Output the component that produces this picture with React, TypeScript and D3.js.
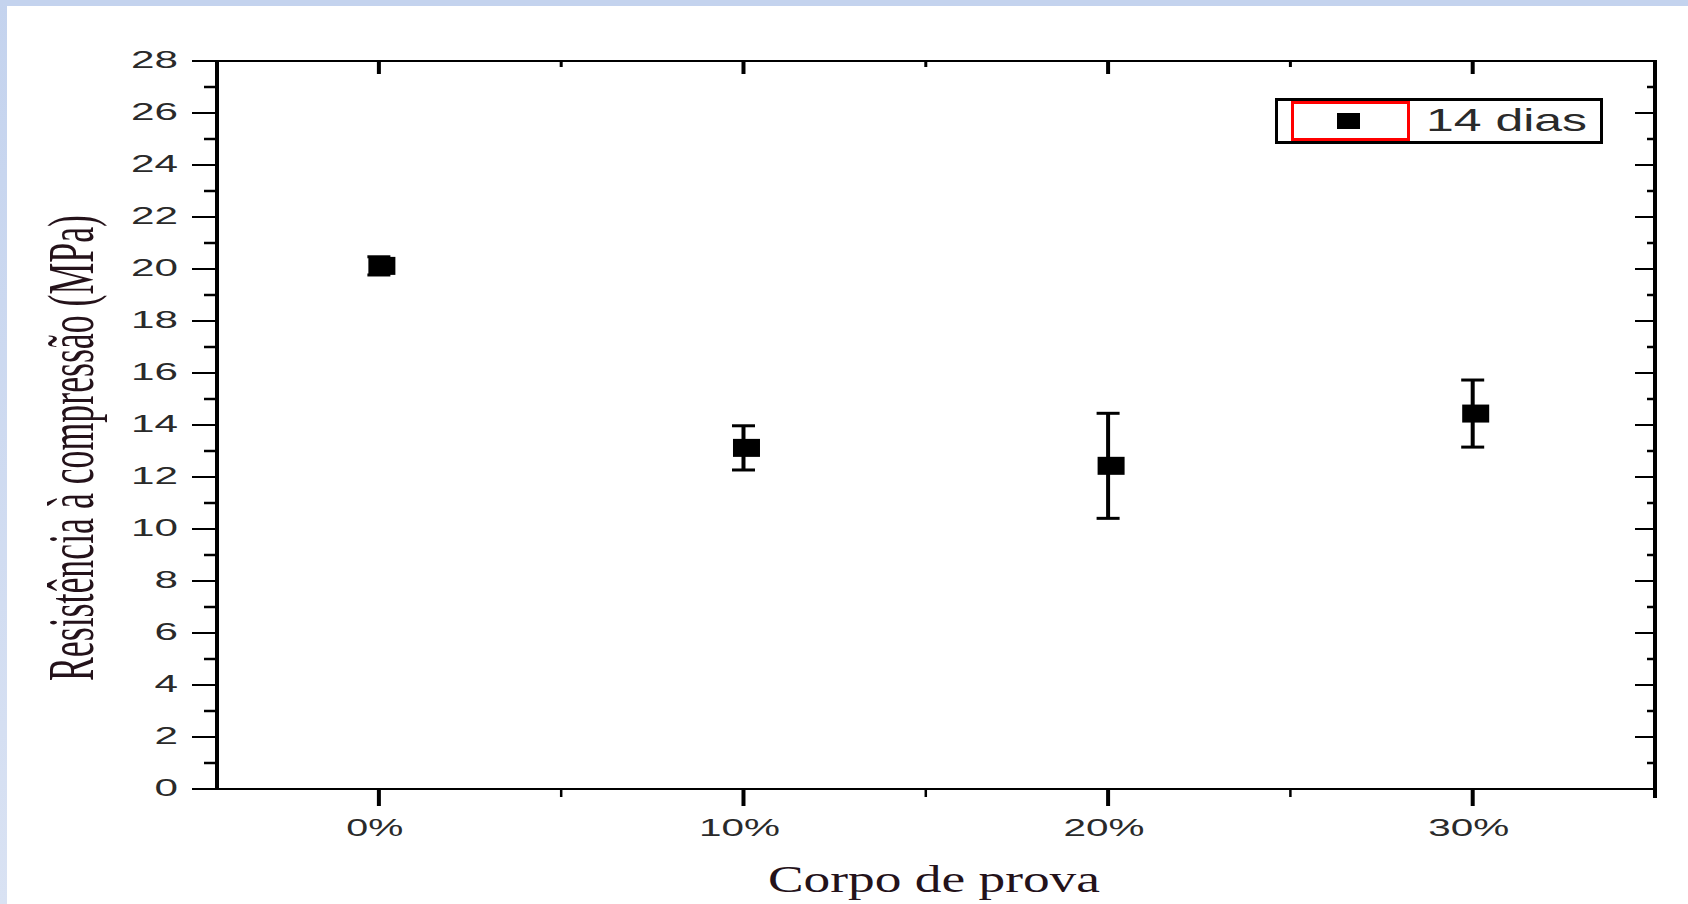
import React, { useEffect } from "react";
import * as d3 from "d3";

// values
const categories = ["0%", "10%", "20%", "30%"];
const means = [20.12, 13.12, 12.43, 14.44];
const errors = [0.35, 0.85, 2.02, 1.29];
const yMajorTicks = d3.range(0, 29, 2);
const yMinorTicks = d3.range(1, 28, 2);
const legendLabel = "14 dias";
const xTitle = "Corpo de prova";
const yTitle = "Resistência à compressão (MPa)";

const W = 1688;
const H = 904;
const plot = { left: 217, right: 1655, top: 61, bottom: 789 };

const sans = "'Liberation Sans', Arial, sans-serif";
const serif = "'Liberation Serif', 'Times New Roman', serif";

export default function App() {
  useEffect(() => {
    document.body.style.margin = "0";
  }, []);

  const x = d3.scaleLinear().domain([-0.444, 3.5]).range([plot.left, plot.right]);
  const y = d3.scaleLinear().domain([0, 28]).range([plot.bottom, plot.top]);
  const xMinor = [0.5, 1.5, 2.5];

  return (
    <svg width={W} height={H} style={{ position: "absolute", left: 0, top: 0, background: "#fff" }}>
      <defs>
        <linearGradient id="edge" x1="0" y1="0" x2="0" y2="1">
          <stop offset="0" stopColor="#c4d3ee" />
          <stop offset="1" stopColor="#d9e2f3" />
        </linearGradient>
      </defs>
      <rect x={0} y={0} width={W} height={6} fill="#c4d3ee" />
      <rect x={0} y={0} width={7} height={H} fill="url(#edge)" />

      {/* frame */}
      <line x1={plot.left} x2={plot.right + 2} y1={plot.top} y2={plot.top} stroke="#000" strokeWidth={2} />
      <line x1={plot.left} x2={plot.right + 2} y1={plot.bottom} y2={plot.bottom} stroke="#000" strokeWidth={2} />
      <line x1={plot.left} x2={plot.left} y1={plot.top - 1} y2={plot.bottom + 1} stroke="#000" strokeWidth={4} />
      <line x1={plot.right} x2={plot.right} y1={plot.top - 1} y2={plot.bottom + 9} stroke="#000" strokeWidth={4} />

      {/* left axis outward ticks, right axis inward */}
      {yMajorTicks.map((t) => (
        <g key={"yl" + t}>
          <line x1={192} x2={plot.left} y1={y(t)} y2={y(t)} stroke="#000" strokeWidth={2} />
          <line x1={plot.right - 20} x2={plot.right} y1={y(t)} y2={y(t)} stroke="#000" strokeWidth={2} />
          <text
            x={178}
            y={y(t) + 7}
            textAnchor="end"
            fontFamily={sans}
            fontSize={23}
            fill="#2a2a2a"
            textLength={String(t).length * 23.5}
            lengthAdjust="spacingAndGlyphs"
          >
            {t}
          </text>
        </g>
      ))}
      {yMinorTicks.map((t) => (
        <g key={"ym" + t}>
          <line x1={204} x2={plot.left} y1={y(t)} y2={y(t)} stroke="#000" strokeWidth={2.5} />
          <line x1={plot.right - 8} x2={plot.right} y1={y(t)} y2={y(t)} stroke="#000" strokeWidth={2.5} />
        </g>
      ))}

      {/* bottom / top ticks */}
      {categories.map((c, i) => (
        <g key={"xc" + c}>
          <line x1={x(i)} x2={x(i)} y1={plot.bottom} y2={plot.bottom + 17} stroke="#000" strokeWidth={4} />
          <line x1={x(i)} x2={x(i)} y1={plot.top} y2={plot.top + 13} stroke="#000" strokeWidth={4} />
          <text
            x={x(i) - 4}
            y={836}
            textAnchor="middle"
            fontFamily={sans}
            fontSize={23}
            fill="#2a2a2a"
            textLength={(c.length - 1) * 24 + 33}
            lengthAdjust="spacingAndGlyphs"
          >
            {c}
          </text>
        </g>
      ))}
      {xMinor.map((t) => (
        <g key={"xm" + t}>
          <line x1={x(t)} x2={x(t)} y1={plot.bottom} y2={plot.bottom + 8} stroke="#000" strokeWidth={2.5} />
          <line x1={x(t)} x2={x(t)} y1={plot.top} y2={plot.top + 6} stroke="#000" strokeWidth={3} />
        </g>
      ))}

      {/* error bars and markers */}
      {means.map((m, i) => {
        const cx = x(i);
        const top = y(m + errors[i]);
        const bot = y(m - errors[i]);
        return (
          <g key={"pt" + i}>
            <line x1={cx} x2={cx} y1={top} y2={bot} stroke="#000" strokeWidth={4} />
            <line x1={cx - 11.5} x2={cx + 11.5} y1={top} y2={top} stroke="#000" strokeWidth={3} />
            <line x1={cx - 11.5} x2={cx + 11.5} y1={bot} y2={bot} stroke="#000" strokeWidth={3} />
            <rect x={cx + 3 - 13.5} y={y(m) - 9} width={27} height={18} fill="#000" />
          </g>
        );
      })}

      {/* legend */}
      <rect x={1276.5} y={99.5} width={325} height={43} fill="#fff" stroke="#000" strokeWidth={3} />
      <rect x={1292.5} y={102.5} width={116} height={37} fill="none" stroke="#ff0000" strokeWidth={3} />
      <rect x={1337} y={113} width={23} height={16} fill="#000" />
      <text
        x={1426}
        y={131}
        fontFamily={sans}
        fontSize={32}
        fill="#2a2a2a"
        textLength={161}
        lengthAdjust="spacingAndGlyphs"
      >
        {legendLabel}
      </text>

      {/* axis titles */}
      <text
        x={934}
        y={892}
        textAnchor="middle"
        fontFamily={serif}
        fontSize={37}
        fill="#24121a"
        textLength={332}
        lengthAdjust="spacingAndGlyphs"
      >
        {xTitle}
      </text>
      <g transform="translate(93,448) rotate(-90) scale(1,1.8)">
        <text
          x={0}
          y={0}
          textAnchor="middle"
          fontFamily={serif}
          fontSize={36}
          fill="#24121a"
          textLength={466}
          lengthAdjust="spacingAndGlyphs"
        >
          {yTitle}
        </text>
      </g>
    </svg>
  );
}
